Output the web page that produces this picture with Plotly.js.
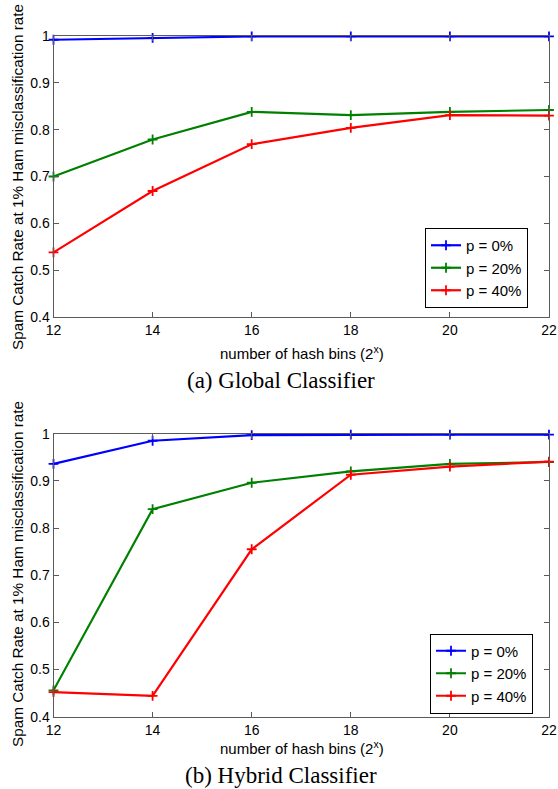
<!DOCTYPE html>
<html>
<head>
<meta charset="utf-8">
<script src="https://cdn.plot.ly/plotly-3.0.1.min.js"></script>
<style>html,body{margin:0;padding:0;background:#fff;}#chart{width:558px;height:789px;}</style>
</head>
<body>
<div id="chart"></div>
<script>
// Data
const hashBits = [12, 14, 16, 18, 20, 22];
const seriesNames = ['p = 0%', 'p = 20%', 'p = 40%'];
const seriesColors = ['#0000ff', '#008000', '#ff0000'];

// (a) Global Classifier
const globalP0  = [0.992, 0.996, 0.999, 0.999, 0.999, 0.999];
const globalP20 = [0.700, 0.779, 0.838, 0.831, 0.838, 0.842];
const globalP40 = [0.538, 0.669, 0.769, 0.804, 0.831, 0.830];

// (b) Hybrid Classifier
const hybridP0  = [0.936, 0.985, 0.997, 0.998, 0.998, 0.998];
const hybridP20 = [0.456, 0.840, 0.896, 0.920, 0.936, 0.940];
const hybridP40 = [0.452, 0.444, 0.755, 0.913, 0.930, 0.941];

const yTickVals = [0.4, 0.5, 0.6, 0.7, 0.8, 0.9, 1];
const yTickText = ['0.4', '0.5', '0.6', '0.7', '0.8', '0.9', '1'];
const xTickVals = [12, 14, 16, 18, 20, 22];
const xTickText = ['12', '14', '16', '18', '20', '22'];

const captionA = '(a) Global Classifier';
const captionB = '(b) Hybrid Classifier';
const yTitle = 'Spam Catch Rate at 1% Ham misclassification rate';
const xTitle = 'number of hash bins (2<sup>x</sup>)';

const W = 558, H = 789;
const px = v => v / W;
const py = v => 1 - v / H;

function mk(y, i, xa, ya, leg) {
  return {
    x: hashBits, y: y, name: seriesNames[i], type: 'scatter', mode: 'lines+markers',
    xaxis: xa, yaxis: ya, legend: leg, cliponaxis: false,
    line: {color: seriesColors[i], width: 2.2},
    marker: {symbol: 'cross-thin-open', size: 7, color: seriesColors[i], line: {color: seriesColors[i], width: 1.8}}
  };
}

const traces = [
  mk(globalP0, 0, 'x', 'y', 'legend'),
  mk(globalP20, 1, 'x', 'y', 'legend'),
  mk(globalP40, 2, 'x', 'y', 'legend'),
  mk(hybridP0, 0, 'x2', 'y2', 'legend2'),
  mk(hybridP20, 1, 'x2', 'y2', 'legend2'),
  mk(hybridP40, 2, 'x2', 'y2', 'legend2')
];

const sans = 'Liberation Sans, Arial, sans-serif';
const tickFont = {family: sans, size: 14, color: '#000'};
const axBase = {
  showgrid: false, zeroline: false, showline: true, linecolor: '#5a5a5a', linewidth: 1,
  mirror: 'ticks', ticks: 'inside', ticklen: 5, tickwidth: 1, tickcolor: '#5a5a5a',
  tickfont: tickFont, fixedrange: true
};
const xDom = [px(53.5), px(549)];

const legBase = {
  bgcolor: '#fff', bordercolor: '#000', borderwidth: 1,
  font: {family: sans, size: 15, color: '#000'},
  xanchor: 'left', yanchor: 'top', tracegroupgap: 0, itemwidth: 30
};

const layout = {
  width: W, height: H,
  margin: {l: 0, r: 0, t: 0, b: 0},
  paper_bgcolor: '#fff', plot_bgcolor: '#fff',
  showlegend: true,
  xaxis: Object.assign({}, axBase, {domain: xDom, range: [12, 22], anchor: 'y', tickvals: xTickVals, ticktext: xTickText}),
  yaxis: Object.assign({}, axBase, {domain: [py(317), py(36)], range: [0.4, 1], anchor: 'x', tickvals: yTickVals, ticktext: yTickText}),
  xaxis2: Object.assign({}, axBase, {domain: xDom, range: [12, 22], anchor: 'y2', tickvals: xTickVals, ticktext: xTickText}),
  yaxis2: Object.assign({}, axBase, {domain: [py(716.7), py(433.7)], range: [0.4, 1], anchor: 'x2', tickvals: yTickVals, ticktext: yTickText}),
  legend: Object.assign({}, legBase, {x: px(425), y: py(228)}),
  legend2: Object.assign({}, legBase, {x: px(430), y: py(633.5)}),
  annotations: [
    {text: yTitle, textangle: -90, xref: 'paper', yref: 'paper', x: px(17), y: py(177), showarrow: false,
     font: {family: sans, size: 15.3, color: '#000'}, xanchor: 'center', yanchor: 'middle'},
    {text: yTitle, textangle: -90, xref: 'paper', yref: 'paper', x: px(17), y: py(574), showarrow: false,
     font: {family: sans, size: 15.3, color: '#000'}, xanchor: 'center', yanchor: 'middle'},
    {text: xTitle, xref: 'paper', yref: 'paper', x: px(302), y: py(352), showarrow: false,
     font: {family: sans, size: 15, color: '#000'}, xanchor: 'center', yanchor: 'middle'},
    {text: xTitle, xref: 'paper', yref: 'paper', x: px(302), y: py(747), showarrow: false,
     font: {family: sans, size: 15, color: '#000'}, xanchor: 'center', yanchor: 'middle'},
    {text: captionA, xref: 'paper', yref: 'paper', x: px(281), y: py(380), showarrow: false,
     font: {family: 'Liberation Serif, DejaVu Serif, serif', size: 23, color: '#000'}, xanchor: 'center', yanchor: 'middle'},
    {text: captionB, xref: 'paper', yref: 'paper', x: px(281), y: py(775), showarrow: false,
     font: {family: 'Liberation Serif, DejaVu Serif, serif', size: 23, color: '#000'}, xanchor: 'center', yanchor: 'middle'}
  ]
};

Plotly.newPlot('chart', traces, layout, {staticPlot: true, displayModeBar: false});
</script>
</body>
</html>
